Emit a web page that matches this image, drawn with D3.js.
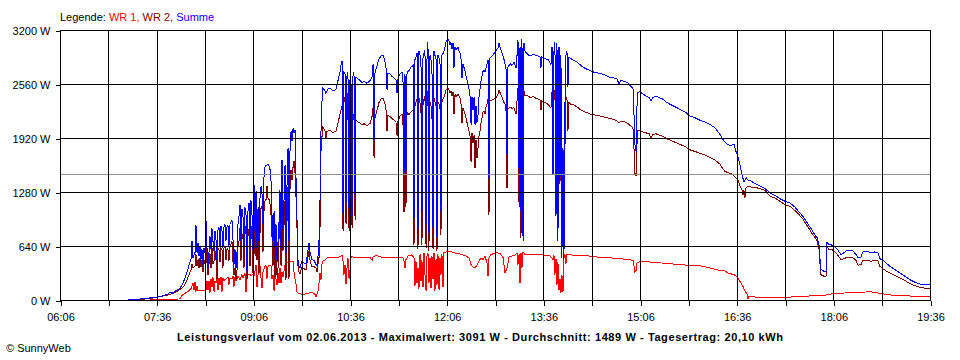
<!DOCTYPE html>
<html><head><meta charset="utf-8">
<script src="https://cdn.jsdelivr.net/npm/d3@7"></script>
<style>
body{margin:0;background:#fff}
svg{display:block}
text{font-family:"Liberation Sans",Arial,sans-serif;font-size:11px}
</style>
</head><body>
<svg id="chart" width="960" height="360"></svg>
<script>
// ---- data (time in minutes since midnight, power in W) ----
const gridMinutes = [366,411,456,501,546,591,636,681,726,771,816,861,906,951,996,1041,1086,1131,1176];
const labelMinutes = [366,456,546,636,726,816,906,996,1086,1176];
const xTickLabels = ["06:06","07:36","09:06","10:36","12:06","13:36","15:06","16:36","18:06","19:36"];
const yTicks = [0,640,1280,1920,2560,3200];
const yTickLabels = ["0 W","640 W","1280 W","1920 W","2560 W","3200 W"];
const average = 1489;
const legendItems = ["WR 1,", " WR 2,", " Summe"];
const title = "Leistungsverlauf vom 02.06.2013 - Maximalwert: 3091 W - Durchschnitt: 1489 W - Tagesertrag: 20,10 kWh";

const wr1 = [[449.8,0],[456.3,8],[468.4,10],[477.7,12],[479.6,55],[482.4,80],[485.2,100],[488.0,135],[489.8,200],[490.8,120],[491.7,215],[492.6,100],[493.6,170],[494.5,110],[496.3,115],[498.2,105],[500.0,115],[501.9,110],[502.8,230],[503.8,120],[504.7,230],[505.6,80],[506.6,250],[507.5,150],[508.4,270],[509.4,100],[510.3,230],[511.2,200],[512.2,280],[513.1,120],[514.0,260],[515.0,180],[515.9,270],[516.8,100],[517.7,260],[518.7,230],[520.5,250],[522.4,270],[523.3,180],[524.3,260],[526.1,250],[527.1,280],[528.0,160],[528.9,270],[529.9,230],[531.7,280],[533.6,240],[535.4,300],[536.4,260],[538.2,320],[539.2,100],[540.1,290],[542.0,310],[543.8,290],[545.7,300],[546.6,280],[548.5,410],[549.4,150],[550.4,300],[551.3,380],[552.2,410],[553.2,250],[554.1,140],[555.0,330],[556.9,400],[557.8,410],[558.7,250],[559.7,400],[561.5,410],[562.5,400],[563.4,250],[564.3,300],[565.3,110],[566.2,350],[567.1,250],[568.1,180],[569.0,320],[569.9,200],[570.8,380],[571.8,200],[572.7,330],[573.6,270],[575.5,420],[576.4,300],[577.4,440],[579.2,450],[581.1,460],[583.0,455],[583.9,330],[584.8,250],[585.8,180],[586.7,90],[588.5,75],[591.3,70],[594.1,70],[597.0,80],[598.8,90],[600.6,95],[602.5,75],[603.4,65],[604.4,40],[605.3,70],[606.2,100],[607.1,200],[608.1,320],[609.0,240],[609.9,420],[610.8,460],[612.7,470],[614.6,500],[617.4,500],[620.2,505],[623.0,500],[625.8,510],[628.6,525],[629.5,460],[630.4,300],[631.4,420],[632.3,190],[633.2,380],[634.1,500],[635.1,250],[636.0,350],[636.9,500],[637.9,520],[639.7,500],[641.6,510],[645.4,505],[650.0,500],[654.7,505],[656.6,470],[657.5,510],[660.3,530],[662.2,520],[665.9,505],[669.6,500],[673.3,505],[678.0,500],[682.5,500],[685.3,500],[686.3,460],[687.2,380],[688.1,480],[690.0,520],[693.7,535],[695.6,500],[696.5,170],[697.4,460],[698.4,200],[699.3,380],[700.2,130],[701.2,540],[702.1,220],[703.0,470],[704.0,150],[704.9,560],[705.8,300],[706.8,110],[707.7,520],[708.6,560],[709.5,200],[710.5,500],[711.4,140],[712.3,520],[713.3,250],[714.2,560],[715.1,110],[716.1,480],[717.0,180],[717.9,550],[718.9,120],[719.8,500],[720.7,300],[721.6,540],[722.6,150],[723.5,560],[725.4,570],[729.1,580],[732.8,560],[736.6,550],[740.3,540],[744.0,520],[746.8,500],[748.7,420],[750.5,390],[752.4,380],[754.2,410],[756.1,460],[758.0,500],[759.8,480],[761.7,520],[763.6,440],[764.5,280],[765.4,500],[767.3,540],[770.1,550],[772.9,560],[775.6,550],[778.4,510],[780.3,320],[782.2,380],[784.1,510],[786.8,520],[789.6,530],[791.5,560],[792.4,420],[793.4,540],[794.3,200],[795.2,560],[796.1,380],[797.1,570],[798.9,540],[803.6,540],[808.3,545],[812.9,540],[817.5,530],[822.2,525],[825.0,480],[825.9,530],[826.8,300],[827.8,480],[828.7,180],[829.6,450],[830.6,120],[831.5,250],[832.4,80],[833.3,300],[834.3,100],[835.2,500],[836.1,540],[837.1,430],[838.0,540],[840.8,535],[845.4,530],[850.1,530],[859.4,520],[868.7,506],[878.0,500],[887.3,490],[896.7,475],[899.5,470],[900.4,400],[901.3,330],[902.3,350],[903.2,440],[906.0,458],[915.3,450],[924.6,440],[933.9,430],[943.2,420],[952.5,410],[961.8,405],[971.2,380],[980.5,350],[985.1,345],[987.9,320],[990.7,310],[993.5,300],[996.3,280],[999.1,220],[1001.9,160],[1003.7,110],[1005.6,70],[1006.5,10],[1007.4,45],[1013.0,35],[1045.6,35],[1054.9,43],[1078.3,55],[1082.9,70],[1098.7,85],[1116.4,95],[1119.2,100],[1122.0,95],[1133.2,70],[1145.2,50],[1176.0,43]];

const wr2 = [[429.3,0],[449.8,15],[459.1,40],[468.4,65],[474.0,95],[477.7,125],[480.5,150],[482.4,190],[484.2,240],[486.1,300],[488.0,360],[488.9,420],[489.8,380],[491.7,400],[492.6,540],[493.6,400],[494.5,480],[495.4,380],[496.3,500],[497.2,390],[498.2,470],[499.1,330],[500.0,480],[501.0,430],[501.9,640],[502.8,450],[503.8,300],[504.7,420],[505.6,560],[506.6,380],[507.5,620],[508.4,430],[509.4,460],[510.3,580],[511.2,480],[512.2,250],[513.1,620],[514.0,600],[515.0,450],[515.9,620],[516.8,600],[517.7,380],[518.7,620],[519.6,640],[520.5,470],[521.5,610],[522.4,600],[523.3,460],[524.3,640],[525.2,660],[526.1,700],[527.1,440],[528.0,300],[528.9,380],[529.9,250],[530.8,350],[531.7,620],[532.7,700],[533.6,850],[534.5,460],[535.4,780],[536.4,720],[537.3,380],[538.2,780],[539.2,880],[540.1,240],[541.0,760],[542.0,840],[542.9,400],[543.8,880],[544.8,720],[545.7,320],[546.6,1100],[547.6,520],[548.5,880],[549.4,470],[550.4,800],[551.3,320],[552.2,790],[553.2,1100],[554.1,1110],[555.0,570],[555.9,1050],[556.9,1180],[557.8,1190],[558.7,1350],[559.7,1210],[560.6,1190],[561.5,1140],[562.5,1000],[563.4,750],[564.3,400],[565.3,940],[566.2,270],[567.1,650],[568.1,270],[569.0,380],[569.9,720],[570.8,920],[571.8,400],[572.7,1330],[573.6,580],[574.6,900],[575.5,1180],[576.4,240],[577.4,960],[578.3,1350],[579.2,250],[580.2,1380],[581.1,1540],[582.0,1420],[583.0,1580],[583.9,1650],[584.8,1500],[585.8,1200],[586.7,840],[587.6,400],[588.5,330],[589.4,310],[591.3,390],[593.2,370],[595.1,360],[597.0,520],[597.9,590],[598.8,470],[600.6,390],[602.5,395],[604.4,380],[605.3,330],[606.2,420],[607.1,480],[608.1,880],[609.0,1760],[609.9,1930],[610.8,2050],[612.7,2010],[613.6,1920],[614.6,2000],[617.4,2010],[620.2,1985],[623.0,2000],[624.8,2100],[626.7,2200],[628.6,2300],[629.5,820],[630.4,2400],[631.4,2350],[632.3,900],[633.2,2460],[634.1,2200],[635.1,820],[636.0,2250],[636.9,2200],[637.9,850],[638.8,2130],[639.7,2200],[640.7,950],[641.6,2130],[643.5,2110],[645.4,2095],[647.2,2075],[649.1,2090],[651.0,2070],[652.8,2075],[654.7,2095],[656.6,2180],[657.5,2290],[658.4,1680],[659.3,2170],[661.2,2250],[663.0,2340],[664.9,2385],[666.8,2395],[668.7,2320],[669.6,2250],[670.5,2000],[671.4,2190],[673.2,2175],[675.1,2150],[677.0,2130],[678.8,2110],[679.8,1950],[680.7,2120],[682.5,2180],[684.4,2200],[685.3,2150],[686.3,1040],[687.2,2300],[688.1,1100],[689.1,2220],[690.9,2200],[692.8,2225],[694.7,2250],[695.6,650],[696.5,2300],[697.5,2350],[698.4,2380],[699.3,600],[700.2,2400],[701.2,2330],[702.1,2250],[703.0,650],[704.0,2350],[704.9,2380],[705.8,2420],[706.8,620],[707.7,2300],[708.6,2480],[709.5,580],[710.5,2350],[711.4,2300],[712.3,2250],[713.3,600],[714.2,2400],[715.1,2350],[716.1,2300],[717.0,580],[717.9,2350],[718.9,2320],[719.8,2260],[720.7,770],[721.6,2350],[722.6,2380],[723.5,2400],[724.4,2440],[725.4,2490],[726.3,2500],[727.2,2510],[728.2,2490],[729.1,2450],[730.0,2480],[731.0,2420],[731.9,2470],[732.8,2200],[733.8,2440],[734.7,2410],[736.6,2440],[738.4,2394],[739.4,2320],[740.3,2100],[741.2,2280],[743.1,2200],[745.0,2100],[746.8,2000],[747.7,1950],[748.7,1640],[749.6,1980],[750.5,1860],[751.5,1950],[752.4,1560],[753.3,1900],[754.2,1680],[755.2,1800],[756.1,1940],[757.0,2000],[758.0,2100],[758.9,2160],[759.8,2230],[760.8,2240],[761.7,2200],[762.6,2280],[763.6,2330],[764.5,2380],[765.4,1011],[766.3,2360],[768.2,2370],[770.1,2380],[771.9,2400],[773.8,2440],[774.7,2490],[775.6,2460],[777.5,2410],[779.4,2340],[780.3,2320],[781.2,2290],[782.2,1327],[783.1,2260],[785.0,2290],[786.8,2270],[788.7,2280],[790.6,2200],[791.5,2360],[792.4,2510],[793.4,1100],[794.3,2460],[795.2,740],[796.1,2500],[797.1,750],[798.0,2480],[798.9,2420],[800.8,2430],[803.6,2400],[806.4,2410],[809.2,2390],[812.9,2374],[813.8,2250],[814.7,2360],[817.5,2340],[820.3,2320],[823.1,2275],[824.1,2470],[825.0,1485],[825.9,2440],[826.8,2490],[827.8,1000],[828.7,2500],[829.6,853],[830.6,2450],[831.5,1370],[832.4,2300],[833.3,700],[834.3,1500],[835.2,696],[836.1,1800],[837.1,2400],[838.0,2390],[838.9,2000],[839.9,2340],[841.7,2320],[844.5,2310],[847.3,2290],[850.1,2260],[852.9,2240],[855.7,2225],[859.4,2205],[863.1,2195],[866.9,2185],[870.6,2175],[874.3,2165],[878.0,2150],[881.8,2140],[884.6,2125],[886.4,2100],[888.3,2120],[892.0,2110],[894.8,2090],[896.7,2070],[898.5,2050],[899.5,2030],[900.4,1800],[901.3,1500],[902.3,1466],[903.2,1850],[904.1,2010],[906.0,2010],[908.8,1990],[911.6,1980],[914.4,1975],[916.2,1920],[918.1,1960],[920.9,1970],[923.7,1955],[927.4,1940],[931.1,1910],[933.9,1895],[938.6,1870],[943.2,1845],[947.9,1820],[952.5,1780],[957.2,1760],[961.8,1740],[966.5,1720],[971.2,1690],[975.8,1660],[980.5,1610],[983.3,1550],[985.1,1525],[987.9,1510],[990.7,1500],[993.5,1470],[995.4,1446],[997.2,1420],[999.1,1350],[1001.0,1300],[1001.9,1240],[1002.8,1300],[1003.7,1209],[1004.7,1330],[1006.5,1345],[1008.4,1340],[1013.0,1335],[1017.7,1320],[1022.4,1300],[1027.0,1230],[1031.7,1210],[1036.3,1170],[1041.0,1130],[1045.6,1110],[1050.3,1060],[1054.9,1000],[1057.7,960],[1060.5,900],[1063.3,850],[1066.1,790],[1068.9,740],[1070.8,700],[1072.6,616],[1073.6,420],[1074.5,300],[1077.3,281],[1079.2,285],[1080.1,630],[1082.0,600],[1084.8,596],[1087.6,570],[1090.3,530],[1093.1,478],[1095.9,490],[1098.7,505],[1101.5,505],[1104.3,500],[1107.1,470],[1109.0,411],[1111.7,420],[1113.6,470],[1117.3,470],[1121.0,460],[1124.8,470],[1127.5,465],[1129.4,400],[1132.2,370],[1135.0,345],[1138.7,320],[1143.4,290],[1148.0,260],[1152.7,230],[1157.3,195],[1162.0,170],[1166.7,150],[1171.3,140],[1176.0,138]];

const summe = [[429.3,0],[435.8,5],[442.5,15],[449.8,25],[456.3,35],[461.9,50],[466.5,70],[468.4,95],[470.3,80],[474.0,110],[477.7,140],[480.5,200],[482.4,260],[484.2,330],[486.1,410],[488.0,490],[488.9,700],[489.8,500],[491.7,560],[492.6,890],[493.6,560],[494.5,680],[495.4,520],[496.3,640],[497.2,480],[498.2,600],[499.1,420],[500.0,620],[501.0,560],[501.9,950],[502.8,640],[503.8,380],[504.7,560],[505.6,760],[506.6,600],[507.5,850],[508.4,700],[509.4,580],[510.3,820],[511.2,720],[512.2,470],[513.1,830],[514.0,860],[515.0,640],[515.9,880],[516.8,830],[517.7,620],[518.7,860],[519.6,900],[520.5,700],[521.5,870],[522.4,880],[523.3,640],[524.3,900],[525.2,920],[526.1,950],[527.1,700],[528.0,420],[528.9,600],[529.9,380],[530.8,560],[531.7,900],[532.7,1000],[533.6,1130],[534.5,700],[535.4,1080],[536.4,980],[537.3,620],[538.2,1100],[539.2,1000],[540.1,340],[541.0,1050],[542.0,1150],[542.9,640],[543.8,1180],[544.8,1000],[545.7,600],[546.6,1380],[547.6,800],[548.5,1290],[549.4,620],[550.4,1100],[551.3,700],[552.2,1200],[553.2,1350],[554.1,1250],[555.0,900],[555.9,1450],[556.9,1580],[557.8,1600],[558.7,1600],[559.7,1610],[560.6,1590],[561.5,1550],[562.5,1400],[563.4,1000],[564.3,700],[565.3,1050],[566.2,620],[567.1,900],[568.1,450],[569.0,700],[569.9,920],[570.8,1300],[571.8,600],[572.7,1660],[573.6,850],[574.6,1200],[575.5,1600],[576.4,540],[577.4,1400],[578.3,1800],[579.2,700],[580.2,1820],[581.1,2000],[582.0,1880],[583.0,2040],[583.9,1980],[584.8,2010],[585.8,1400],[586.7,930],[587.6,470],[588.5,400],[589.4,380],[591.3,460],[593.2,440],[595.1,430],[597.0,600],[597.9,675],[598.8,560],[600.6,480],[602.5,470],[604.4,420],[605.3,400],[606.2,520],[607.1,680],[608.1,1200],[609.0,2000],[609.9,2350],[610.8,2510],[612.7,2480],[613.6,2450],[615.5,2500],[617.4,2510],[619.2,2490],[621.1,2480],[623.0,2500],[624.8,2600],[626.7,2700],[627.6,2780],[628.6,2830],[629.5,1000],[630.4,2700],[631.4,2680],[632.3,1150],[633.2,2650],[634.1,2700],[635.1,1050],[636.0,2600],[636.9,2620],[637.9,1000],[638.8,2650],[639.7,2700],[640.7,1200],[641.6,2640],[643.5,2620],[645.4,2600],[647.2,2580],[649.1,2590],[651.0,2570],[652.8,2580],[654.7,2600],[656.6,2650],[657.5,2800],[658.4,1900],[659.3,2700],[661.2,2780],[663.0,2860],[664.9,2890],[666.8,2900],[668.7,2820],[669.6,2750],[670.5,2490],[671.4,2690],[673.2,2680],[675.1,2650],[677.0,2630],[678.8,2610],[679.8,2450],[680.7,2620],[682.5,2680],[684.4,2700],[685.3,2650],[686.3,1500],[687.2,2680],[688.1,1480],[689.1,2700],[690.9,2720],[692.8,2760],[694.7,2780],[695.6,950],[696.5,2850],[697.5,2880],[698.4,2930],[699.3,800],[700.2,2950],[701.2,2900],[702.1,2800],[703.0,950],[704.0,2900],[704.9,2930],[705.8,2960],[706.8,900],[707.7,2850],[708.6,3060],[709.5,800],[710.5,2900],[711.4,2850],[712.3,2800],[713.3,850],[714.2,2950],[715.1,2900],[716.1,2850],[717.0,750],[717.9,2900],[718.9,2870],[719.8,2800],[720.7,1050],[721.6,2900],[722.6,2920],[723.5,2950],[724.4,3000],[725.4,3060],[726.3,3080],[727.2,3091],[728.2,3070],[729.1,3020],[730.0,3050],[731.0,2980],[731.9,3040],[732.8,2750],[733.8,3000],[734.7,2960],[736.6,3000],[737.5,2950],[738.4,2930],[739.4,2850],[740.3,2630],[741.2,2800],[743.1,2710],[745.0,2600],[746.8,2500],[747.7,2430],[748.7,2080],[749.6,2400],[750.5,2250],[751.5,2400],[752.4,2080],[753.3,2300],[754.2,2100],[755.2,2200],[756.1,2400],[757.0,2500],[758.0,2600],[758.9,2650],[759.8,2710],[760.8,2720],[761.7,2700],[762.6,2750],[763.6,2800],[764.5,2850],[765.4,1450],[766.3,2870],[768.2,2890],[770.1,2920],[771.9,2950],[773.8,2990],[774.7,3050],[775.6,3000],[777.5,2930],[779.4,2850],[780.3,2800],[781.2,2780],[782.2,1720],[783.1,2760],[785.0,2800],[786.8,2780],[788.7,2820],[790.6,2750],[791.5,2900],[792.4,3080],[793.4,1500],[794.3,3000],[795.2,1050],[796.1,3090],[797.1,700],[798.0,3050],[798.9,2950],[800.8,2920],[803.6,2890],[806.4,2910],[809.2,2900],[812.9,2880],[813.8,2750],[814.7,2880],[817.5,2860],[820.3,2850],[823.1,2790],[824.1,3000],[825.0,1480],[825.9,2950],[826.8,3060],[827.8,1000],[828.7,3040],[829.6,700],[830.6,3000],[831.5,1400],[832.4,2900],[833.3,500],[834.3,1800],[835.2,480],[836.1,2300],[837.1,2900],[838.0,2950],[838.9,2530],[839.9,2880],[841.7,2860],[844.5,2840],[847.3,2820],[850.1,2790],[852.9,2760],[855.7,2740],[859.4,2720],[863.1,2700],[866.9,2690],[870.6,2680],[874.3,2660],[878.0,2640],[881.8,2630],[884.6,2620],[886.4,2560],[888.3,2600],[892.0,2590],[894.8,2570],[896.7,2540],[898.5,2520],[899.5,2500],[900.4,2200],[901.3,1840],[902.3,1760],[903.2,2300],[904.1,2460],[906.0,2470],[908.8,2440],[911.6,2420],[914.4,2400],[916.2,2360],[918.1,2400],[920.9,2420],[923.7,2400],[927.4,2380],[931.1,2340],[933.9,2320],[938.6,2290],[943.2,2260],[947.9,2230],[952.5,2180],[957.2,2160],[961.8,2130],[966.5,2110],[971.2,2080],[975.8,2040],[980.5,1960],[983.3,1900],[985.1,1870],[987.9,1840],[990.7,1830],[993.5,1850],[995.4,1760],[997.2,1700],[999.1,1600],[1001.0,1480],[1002.8,1400],[1004.7,1450],[1006.5,1420],[1008.4,1420],[1013.0,1380],[1017.7,1350],[1022.4,1320],[1027.0,1270],[1031.7,1240],[1036.3,1200],[1041.0,1170],[1045.6,1150],[1050.3,1100],[1054.9,1030],[1057.7,990],[1060.5,940],[1063.3,880],[1066.1,830],[1068.9,770],[1070.8,740],[1072.6,660],[1073.6,480],[1074.5,360],[1077.3,340],[1079.2,340],[1080.1,680],[1082.0,660],[1084.8,650],[1087.6,630],[1090.3,590],[1093.1,540],[1095.9,560],[1098.7,590],[1101.5,590],[1104.3,580],[1107.1,540],[1109.0,500],[1111.7,510],[1113.6,570],[1117.3,580],[1121.0,560],[1124.8,570],[1127.5,560],[1129.4,490],[1132.2,470],[1135.0,440],[1138.7,400],[1143.4,360],[1148.0,320],[1152.7,280],[1157.3,240],[1162.0,210],[1166.7,190],[1171.3,180],[1176.0,178]];

// ---- drawing ----
const svg = d3.select("#chart");
svg.append("rect").attr("width",960).attr("height",360).attr("fill","#fff");

const x = d3.scaleLinear().domain([366,1176]).range([60,930]);
const y = d3.scaleLinear().domain([0,3200]).range([300,30]);
const line = d3.line().x(d => x(d[0])).y(d => y(d[1]));

const series = [
  {data: wr1, color: "#ff0000"},
  {data: wr2, color: "#800000"},
  {data: summe, color: "#0000ff"}
];
svg.append("g").selectAll("path").data(series).join("path")
  .attr("d", d => line(d.data))
  .attr("fill","none").attr("stroke", d => d.color)
  .attr("stroke-width",1).attr("shape-rendering","crispEdges");

// average line
svg.append("line")
  .attr("x1",x(366)).attr("x2",x(1176))
  .attr("y1",Math.round(y(average))+0.5).attr("y2",Math.round(y(average))+0.5)
  .attr("stroke","#909090").attr("stroke-width",1).attr("shape-rendering","crispEdges");

// grid
const grid = svg.append("g").attr("shape-rendering","crispEdges").attr("stroke","#000").attr("stroke-width",1);
grid.selectAll("line.h").data(yTicks).join("line").attr("class","h")
  .attr("x1",x(366)).attr("x2",x(1176)+1)
  .attr("y1",d=>Math.round(y(d))+0.5).attr("y2",d=>Math.round(y(d))+0.5);
grid.selectAll("line.v").data(gridMinutes).join("line").attr("class","v")
  .attr("x1",d=>Math.round(x(d))+0.5).attr("x2",d=>Math.round(x(d))+0.5)
  .attr("y1",y(3200)).attr("y2",y(0));

// axes
const yAxis = d3.axisLeft(y).tickValues(yTicks).tickSize(5).tickPadding(5)
  .tickFormat((d,i) => yTickLabels[i]);
const gy = svg.append("g").attr("transform","translate(60.5,0.5)").call(yAxis);
gy.select(".domain").remove();
gy.selectAll("line").attr("stroke","#000").attr("shape-rendering","crispEdges");
gy.selectAll("text").attr("font-family",'"Liberation Sans",Arial,sans-serif').attr("font-size","11px").attr("fill","#000");

const xAxis = d3.axisBottom(x).tickValues(gridMinutes).tickSize(5).tickPadding(8)
  .tickFormat(d => { const i = labelMinutes.indexOf(d); return i >= 0 ? xTickLabels[i] : ""; });
const gx = svg.append("g").attr("transform","translate(0.5,300.5)").call(xAxis);
gx.select(".domain").remove();
gx.selectAll("line").attr("stroke","#000").attr("shape-rendering","crispEdges");
gx.selectAll("text").attr("font-family",'"Liberation Sans",Arial,sans-serif').attr("font-size","11px").attr("fill","#000");

// legend
const legend = svg.append("text").attr("x",60).attr("y",21);
legend.append("tspan").attr("fill","#000").text("Legende: ");
const legendColors = ["#ff0000","#800000","#0000ff"];
legendItems.forEach((t,i) => legend.append("tspan").attr("fill",legendColors[i]).text(t));

// title
svg.append("text").attr("x",480).attr("y",341).attr("text-anchor","middle")
  .attr("font-weight","bold").attr("textLength",606).attr("lengthAdjust","spacing")
  .attr("fill","#000").text(title);

svg.append("text").attr("x",6).attr("y",352).attr("fill","#000").text("\u00A9 SunnyWeb");
</script>
</body></html>
